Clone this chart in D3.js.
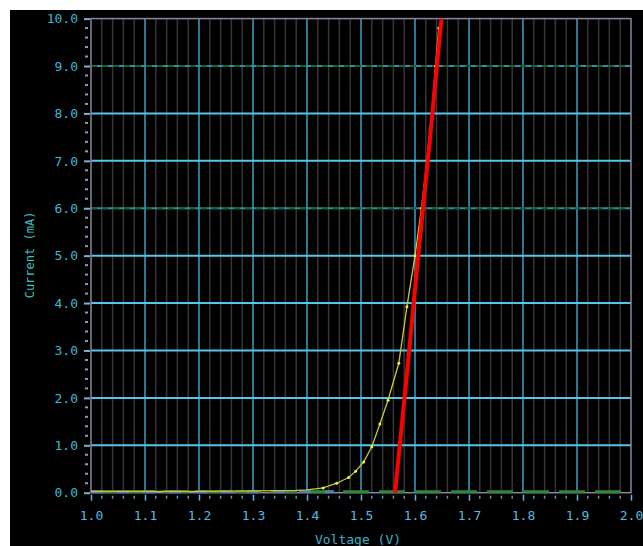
<!DOCTYPE html>
<html><head><meta charset="utf-8">
<script src="https://cdnjs.cloudflare.com/ajax/libs/d3/7.8.5/d3.min.js"></script>
<style>html,body{margin:0;padding:0;background:#fff;}svg{display:block;}</style>
</head><body>
<script>
// ---- data ----
const xTicks = [1.0,1.1,1.2,1.3,1.4,1.5,1.6,1.7,1.8,1.9,2.0];
const yTicks = [0,1,2,3,4,5,6,7,8,9,10];
const measuredV = [1.00,1.10,1.20,1.30,1.38,1.40,1.43,1.455,1.477,1.49,1.505,1.52,1.535,1.55,1.57,1.585,1.60,1.612,1.622,1.631,1.638,1.644];
const measuredI = [0.03,0.03,0.03,0.04,0.05,0.06,0.10,0.20,0.32,0.45,0.65,0.97,1.45,1.95,2.73,3.92,5.00,6.00,7.00,8.00,9.00,9.8];
const fitV = [1.563,1.585,1.606,1.628,1.649];
const fitI = [0.0,2.5,5.0,7.5,10.0];

const W = 643, H = 546;
const svg = d3.select("body").append("svg").attr("width", W).attr("height", H);
svg.append("rect").attr("x",10).attr("y",10).attr("width",W-10).attr("height",H-10).attr("fill","#000");

const x = d3.scaleLinear().domain([1.0,2.0]).range([91,631]);
const y = d3.scaleLinear().domain([0,10]).range([492.7,18.6]);
const font = "'DejaVu Sans Mono', monospace";

// minor vertical grid
const minorX = d3.range(1.0,2.0001,0.02).filter(v => Math.abs(Math.round(v*10)-v*10)>1e-6);
svg.append("g").selectAll("line").data(minorX).join("line")
  .attr("x1",d=>x(d)).attr("x2",d=>x(d)).attr("y1",y(10)).attr("y2",y(0))
  .attr("stroke","#363636").attr("stroke-width",1.5);
// major vertical grid
svg.append("g").selectAll("line").data(xTicks.slice(1,-1)).join("line")
  .attr("x1",d=>x(d)).attr("x2",d=>x(d)).attr("y1",y(10)).attr("y2",y(0))
  .attr("stroke","#3a9fc8").attr("stroke-width",1.5);
// horizontal grid
svg.append("g").selectAll("line").data(yTicks.slice(1,-1)).join("line")
  .attr("x1",x(1.0)).attr("x2",x(2.0)).attr("y1",d=>y(d)).attr("y2",d=>y(d))
  .attr("stroke",d=>(d===6||d===9)?"#2f8fa8":"#55c6ea").attr("stroke-width",2);
svg.append("g").selectAll("line").data([6,9]).join("line")
  .attr("x1",x(1.0)).attr("x2",x(2.0)).attr("y1",d=>y(d)).attr("y2",d=>y(d))
  .attr("stroke","#1d5e2c").attr("stroke-width",2).attr("stroke-dasharray","6,5");

// frame
svg.append("rect").attr("x",x(1.0)).attr("y",y(10)).attr("width",x(2.0)-x(1.0)).attr("height",y(0)-y(10))
  .attr("fill","none").attr("stroke","#8a86a0").attr("stroke-width",1.5);

// y axis
const yAxis = d3.axisLeft(y).tickValues(yTicks).tickFormat(d3.format(".1f")).tickSize(6).tickPadding(6);
const gy = svg.append("g").attr("transform",`translate(${x(1.0)-1},0)`).call(yAxis);
gy.select(".domain").remove();
gy.selectAll("line").attr("stroke","#7fb0d0").attr("stroke-width",2);
gy.selectAll("text").attr("fill","#3db8d0").attr("font-family",font).attr("font-size",13);
const yMinor = d3.range(0,10.001,0.2).filter(v=>Math.abs(v-Math.round(v))>1e-6);
svg.append("g").selectAll("line").data(yMinor).join("line")
  .attr("x1",x(1.0)-6).attr("x2",x(1.0)-3).attr("y1",d=>y(d)).attr("y2",d=>y(d))
  .attr("stroke","#8aa0b0").attr("stroke-width",2);

// x axis
const xAxis = d3.axisBottom(x).tickValues(xTicks).tickFormat(d3.format(".1f")).tickSize(6).tickPadding(10);
const gx = svg.append("g").attr("transform",`translate(0,${y(0)+2})`).call(xAxis);
gx.select(".domain").remove();
gx.selectAll("line").attr("stroke","#6ab0d8").attr("stroke-width",1.5);
gx.selectAll("text").attr("fill","#5ab8e0").attr("font-family",font).attr("font-size",13);
svg.append("g").selectAll("line").data(minorX).join("line")
  .attr("x1",d=>x(d)).attr("x2",d=>x(d)).attr("y1",y(0)+3).attr("y2",y(0)+6)
  .attr("stroke","#6a90b0").attr("stroke-width",1.5);

// baseline noise
svg.append("line").attr("x1",x(1.0)).attr("x2",x(2.0)).attr("y1",y(0)-1).attr("y2",y(0)-1)
  .attr("stroke","#2e8a3a").attr("stroke-width",3).attr("stroke-dasharray","26,10");
svg.append("line").attr("x1",x(1.0)).attr("x2",x(1.45)).attr("y1",y(0)-1).attr("y2",y(0)-1)
  .attr("stroke","#5a7ab0").attr("stroke-width",3).attr("stroke-dasharray","12,14");

// measured curve
const line = d3.line().x(d=>x(d[0])).y(d=>y(d[1]));
const meas = measuredV.map((v,i)=>[v,measuredI[i]]);
svg.append("path").datum(meas).attr("d",line).attr("fill","none")
  .attr("stroke","#c8c832").attr("stroke-width",1.3);
svg.append("g").selectAll("circle").data(meas.filter(d=>d[0]>1.42)).join("circle")
  .attr("cx",d=>x(d[0])).attr("cy",d=>y(d[1])).attr("r",1.5).attr("fill","#f0f040");

// fit line
const fit = fitV.map((v,i)=>[v,fitI[i]]);
svg.append("path").datum(fit).attr("d",line).attr("fill","none")
  .attr("stroke","#ff0000").attr("stroke-width",4);

// titles
svg.append("text").attr("transform","translate(34,255) rotate(-90)").attr("text-anchor","middle")
  .attr("fill","#3cc0c8").attr("font-family",font).attr("font-size",12).text("Current (mA)");
svg.append("text").attr("x",358).attr("y",544).attr("text-anchor","middle")
  .attr("fill","#3cb0c8").attr("font-family",font).attr("font-size",13).text("Voltage (V)");
</script>
</body></html>
